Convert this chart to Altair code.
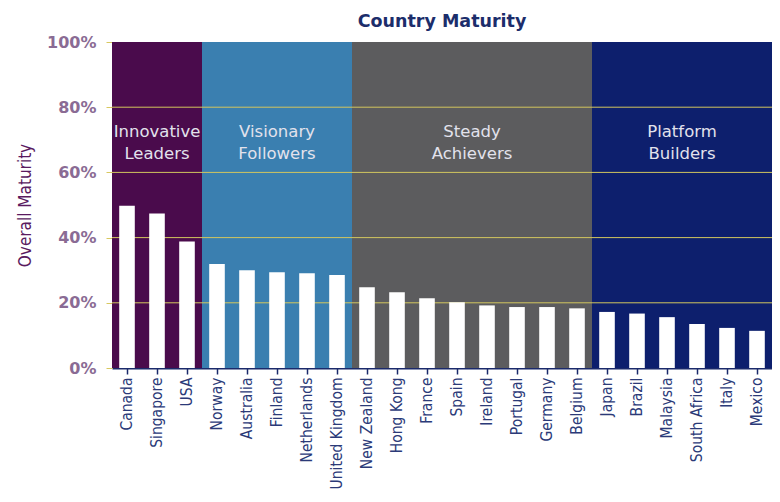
import altair as alt
import pandas as pd

countries = ["Canada", "Singapore", "USA", "Norway", "Australia", "Finland",
             "Netherlands", "United Kingdom", "New Zealand", "Hong Kong", "France",
             "Spain", "Ireland", "Portugal", "Germany", "Belgium", "Japan", "Brazil",
             "Malaysia", "South Africa", "Italy", "Mexico"]
values = [49.8, 47.4, 38.8, 31.9, 30.0, 29.4, 29.1, 28.5, 24.8, 23.2, 21.4,
          20.2, 19.2, 18.7, 18.7, 18.3, 17.2, 16.7, 15.6, 13.5, 12.3, 11.4]
groups = (["Innovative Leaders"] * 3 + ["Visionary Followers"] * 5 +
          ["Steady Achievers"] * 8 + ["Platform Builders"] * 6)
group_names = ["Innovative Leaders", "Visionary Followers", "Steady Achievers", "Platform Builders"]
group_colors = ["#4a0b4c", "#3a7fb0", "#5c5c5e", "#0d1f6d"]
grid_values = [0.2, 0.4, 0.6, 0.8]
y_ticks = [0, 0.2, 0.4, 0.6, 0.8, 1.0]

# group labels: odd-sized groups anchored on middle country, even-sized between two
odd_anchor = ["Singapore", "Finland"]
odd_text = ["Innovative\nLeaders", "Visionary\nFollowers"]
even_anchor = ["Spain", "Malaysia"]
even_text = ["Steady\nAchievers", "Platform\nBuilders"]
label_level = 0.725

df = pd.DataFrame({"country": countries, "value": [v / 100 for v in values],
                   "group": groups, "top": [1.0] * len(countries)})
grid_df = pd.DataFrame({"g": grid_values})
odd_df = pd.DataFrame({"country": odd_anchor, "text": odd_text, "ty": [label_level] * 2})
even_df = pd.DataFrame({"country": even_anchor, "text": even_text, "ty": [label_level] * 2})

narrow = "Liberation Sans Narrow, DejaVu Sans Condensed, Arial Narrow, sans-serif"

x_scale = alt.Scale(domain=countries, paddingInner=0, paddingOuter=0)
x_axis = alt.Axis(title=None, labelAngle=-90, labelFont=narrow, labelFontSize=15.5,
                  labelColor="#2b3a78", domainColor="#1b2a6b", domainWidth=2,
                  tickColor="#1b2a6b", tickSize=6, tickWidth=1.5, labelPadding=3)
y_scale = alt.Scale(domain=[0, 1], nice=False)
y_axis = alt.Axis(format="%", values=y_ticks, title="Overall Maturity", grid=False,
                  domain=False, tickColor="#d8c860", tickSize=6,
                  labelColor="#8a6b94", labelFont="DejaVu Sans", labelFontSize=16,
                  labelFontWeight="bold", labelPadding=10,
                  titleFont=narrow, titleFontSize=17, titleColor="#5a1a5f",
                  titleFontWeight="normal", titlePadding=12)

background = alt.Chart(df).mark_bar().encode(
    x=alt.X("country:N", scale=x_scale, axis=x_axis),
    y=alt.Y("top:Q", scale=y_scale, axis=y_axis),
    color=alt.Color("group:N", scale=alt.Scale(domain=group_names, range=group_colors), legend=None),
)

grid = alt.Chart(grid_df).mark_rule(color="#d2c65e", strokeWidth=1).encode(
    y=alt.Y("g:Q", scale=y_scale)
)

bars = alt.Chart(df).mark_bar(width=alt.RelativeBandSize(0.52), color="#ffffff").encode(
    x=alt.X("country:N", scale=x_scale),
    y=alt.Y("value:Q", scale=y_scale),
)

text_style = dict(color="#e2e2ec", font="DejaVu Sans", fontSize=16.5, lineHeight=22,
                  baseline="middle", align="center", lineBreak="\n")
odd_labels = alt.Chart(odd_df).mark_text(**text_style).encode(
    x=alt.X("country:N", scale=x_scale, bandPosition=0.5),
    y=alt.Y("ty:Q", scale=y_scale),
    text="text:N",
)
even_labels = alt.Chart(even_df).mark_text(**text_style).encode(
    x=alt.X("country:N", scale=x_scale, bandPosition=1),
    y=alt.Y("ty:Q", scale=y_scale),
    text="text:N",
)

chart = alt.layer(background, grid, bars, odd_labels, even_labels).properties(
    width=660, height=326,
    title=alt.TitleParams("Country Maturity", font="DejaVu Sans", fontSize=17.5,
                          fontWeight="bold", color="#1c2d6b", anchor="middle", offset=4),
    autosize=alt.AutoSizeParams(type="none"),
    padding={"left": 104, "top": 34, "right": 0, "bottom": 125},
).configure_view(stroke=None).configure(background="#ffffff")

chart.save("out.html", embed_options={"renderer": "svg", "actions": False})
